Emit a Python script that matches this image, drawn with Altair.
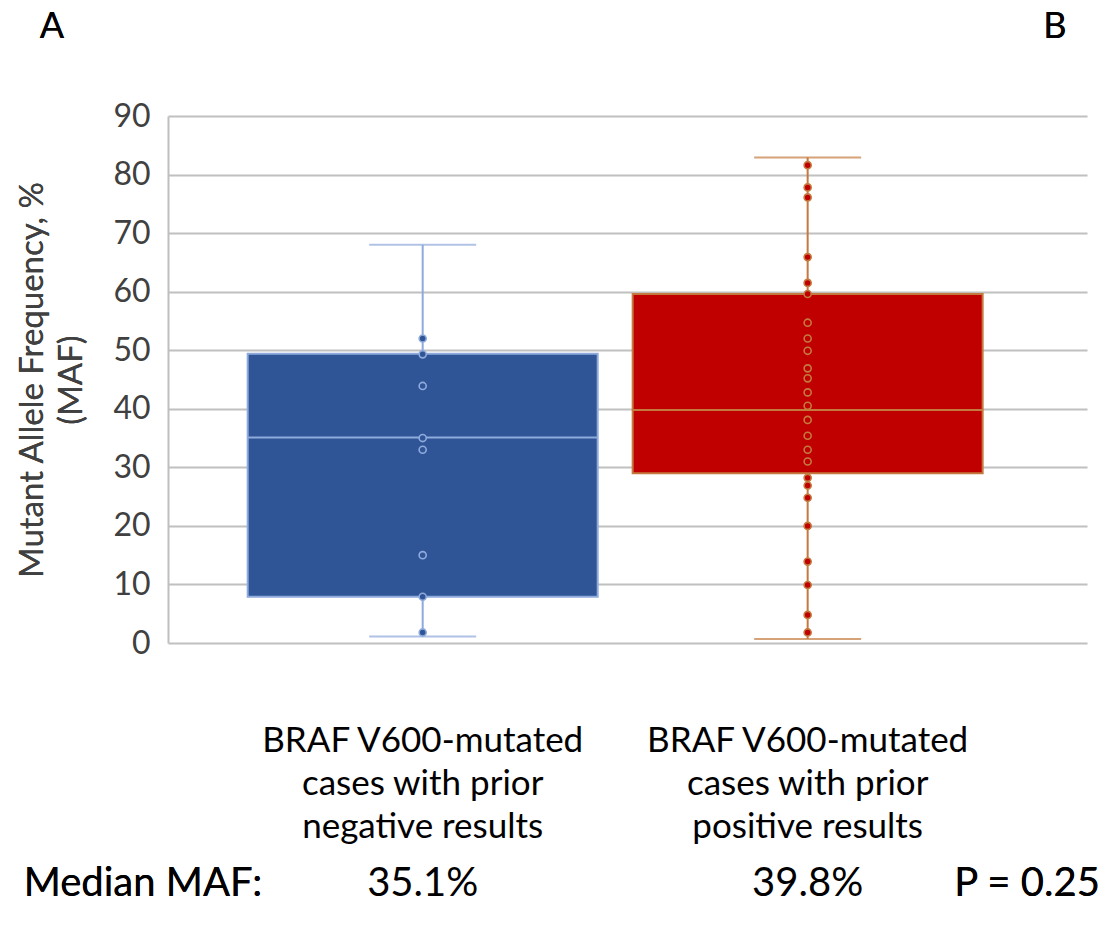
import altair as alt
import pandas as pd

# ---------------- data ----------------
categories = [
    "BRAF V600-mutated\ncases with prior\nnegative results",
    "BRAF V600-mutated\ncases with prior\npositive results",
]
q1 = [7.9, 29.0]
q3 = [49.4, 59.6]
median = [35.1, 39.8]
whisker_low = [1.1, 0.7]
whisker_high = [68.0, 82.9]
median_labels = ["35.1%", "39.8%"]

neg_points = [52.0, 49.3, 43.9, 35.0, 33.0, 15.0, 7.9, 1.8]
pos_points = [81.6, 77.8, 76.1, 65.9, 61.5, 59.6, 54.7, 52.0, 49.9, 46.9,
              45.2, 42.8, 40.5, 38.1, 35.4, 33.0, 31.0, 28.2, 26.9, 24.8,
              20.0, 13.9, 9.9, 4.8, 1.8]

y_ticks = [0, 10, 20, 30, 40, 50, 60, 70, 80, 90]
y_title_lines = ["Mutant Allele Frequency, %", "(MAF)"]
panel_labels = ["A", "B"]
median_row_label = "Median MAF:"
p_value_label = "P = 0.25"

# ---------------- tables ----------------
box_df = pd.DataFrame({
    "group": categories, "q1": q1, "q3": q3, "median": median,
    "low": whisker_low, "high": whisker_high, "mlabel": median_labels,
})
pts_df = pd.DataFrame({
    "group": [categories[0]] * len(neg_points) + [categories[1]] * len(pos_points),
    "maf": neg_points + pos_points,
})

FONT = "Lato"
x_scale = alt.Scale(domain=categories, paddingInner=0.0909, paddingOuter=0.239, align=0.433)
y_scale = alt.Scale(domain=[0, 90], nice=False)
fill_scale = alt.Scale(domain=categories, range=["#2F5597", "#C00000"])
stroke_scale = alt.Scale(domain=categories, range=["#8FAADC", "#C47A3F"])

y_axis = alt.Axis(values=y_ticks, grid=True, gridColor="#C0C0C0", gridWidth=2,
                  domain=True, domainColor="#BFBFBF", domainWidth=2,
                  ticks=False, labelFont=FONT, labelFontSize=32,
                  labelColor="#404040", labelPadding=18, title=None)


def Y(field):
    return alt.Y(field, scale=y_scale, axis=y_axis, title=None)


X = alt.X("group:N", scale=x_scale, axis=None)
fill_enc = alt.Fill("group:N", scale=fill_scale, legend=None)
stroke_enc = alt.Stroke("group:N", scale=stroke_scale, legend=None)
color_enc = alt.Color("group:N", scale=stroke_scale, legend=None)

base = alt.Chart(box_df)

whisker = base.mark_rule(strokeWidth=2).encode(
    x=X, y=Y("low:Q"), y2="high:Q", stroke=stroke_enc)
cap_hi = base.mark_tick(size=107, thickness=2).encode(x=X, y=Y("high:Q"), color=color_enc)
cap_lo = base.mark_tick(size=107, thickness=2).encode(x=X, y=Y("low:Q"), color=color_enc)

box = base.mark_bar(strokeWidth=2).encode(
    x=X, y=Y("q1:Q"), y2="q3:Q", fill=fill_enc, stroke=stroke_enc)

med = base.mark_bar(strokeWidth=2, fillOpacity=0).encode(
    x=X, y=Y("median:Q"), y2="median:Q", stroke=stroke_enc)

points = alt.Chart(pts_df).mark_point(shape="circle", size=50, strokeWidth=1.6,
                                      opacity=1, fillOpacity=1).encode(
    x=X, y=Y("maf:Q"), fill=fill_enc, stroke=stroke_enc)

cat_labels = base.mark_text(font=FONT, fontSize=35, lineBreak="\n", lineHeight=43,
                            baseline="top", align="center", color="#000000").encode(
    x=X, y=alt.value(608), text="group:N")

med_labels = base.mark_text(font=FONT, fontSize=40, baseline="middle", align="center",
                            color="#000000").encode(
    x=X, y=alt.value(768), text="mlabel:N")


def free_text(txt, x, y, size, angle=0, color="#000000"):
    return alt.Chart(box_df).mark_text(font=FONT, fontSize=size, baseline="middle",
                                       align="center", angle=angle, color=color).encode(
        x=alt.value(x), y=alt.value(y), text=alt.value(txt))


annotations = [
    free_text(panel_labels[0], -116, -89, 36),
    free_text(panel_labels[1], 887, -89, 36),
    free_text(median_row_label, -25, 768, 40),
    free_text(p_value_label, 859, 768, 40),
    free_text(y_title_lines[0], -135, 264, 33, angle=270, color="#404040"),
    free_text(y_title_lines[1], -96, 264, 33, angle=270, color="#404040"),
]

chart = alt.layer(whisker, cap_hi, cap_lo, box, med, points, cat_labels, med_labels,
                  *annotations).properties(
    width=919, height=527,
    autosize=alt.AutoSizeParams(type="none"),
    padding={"left": 168, "top": 116, "right": 20, "bottom": 291},
    background="white",
).configure_view(strokeWidth=0)

chart.save("out.html", embed_options={"renderer": "svg", "actions": False})
